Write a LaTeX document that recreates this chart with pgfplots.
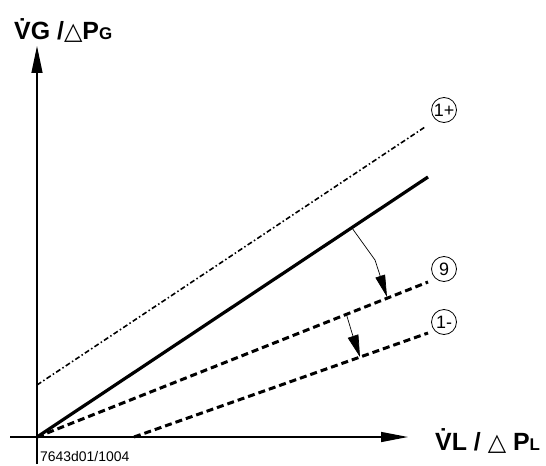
\documentclass[border=0pt]{standalone}
\usepackage{pgfplots}
\pgfplotsset{compat=1.18}
\usepackage{fontspec}
\setmainfont{Liberation Sans}
\newfontfamily\dejavu{DejaVu Sans}
\usetikzlibrary{arrows.meta}

\newcommand{\lblfont}{\fontsize{25}{25}\selectfont\bfseries}
\newcommand{\subfont}{\fontsize{17}{17}\selectfont\bfseries}
\newcommand{\tri}{{\dejavu\fontsize{24}{24}\selectfont △}}

\begin{document}
\begin{tikzpicture}
\begin{axis}[
    scale only axis,
    width=546bp, height=466bp,
    xmin=0, xmax=546, ymin=0, ymax=466,
    y dir=reverse,
    hide axis,
    clip=false,
]
\path (axis cs:0,0) rectangle (axis cs:546,466);

% axes
\draw[line width=1.3bp, -{Triangle[length=27bp,width=10bp]}]
    (axis cs:10,437) -- (axis cs:408,437);
\draw[line width=1.3bp, -{Triangle[length=27bp,width=11bp]}]
    (axis cs:37,464) -- (axis cs:37,46);

% curves
\addplot[black, line width=1.6bp, dash pattern=on 5bp off 2.5bp on 1.5bp off 2.5bp]
    coordinates {(37,385) (425,127)};
\addplot[black, line width=3.2bp]
    coordinates {(37,437) (428,177)};
\addplot[black, line width=3bp, dash pattern=on 7bp off 4bp]
    coordinates {(37,437) (428,282)};
\addplot[black, line width=3bp, dash pattern=on 7bp off 4bp]
    coordinates {(134,437) (428,333)};

% shift arrows
\addplot[black, line width=0.7bp, -{Triangle[length=22bp,width=10bp]}]
    coordinates {(352,228) (375,260) (387,297)};
\addplot[black, line width=0.7bp, -{Triangle[length=22bp,width=11bp]}]
    coordinates {(346,313) (352,333) (360,357)};

% circled labels
\tikzset{circ/.style={draw, circle, line width=0.8bp, minimum size=25bp,
    inner sep=0pt, font=\fontsize{18}{18}\selectfont}}
\node[circ] at (axis cs:444,110) {1+};
\node[circ] at (axis cs:444,269) {9};
\node[circ] at (axis cs:444,322) {1-};

% axis titles
\node[anchor=base west, inner sep=0pt, font=\lblfont] at (axis cs:14,40)
    {\.{V}G /\tri P{\subfont G}};
\node[anchor=base west, inner sep=0pt, font=\lblfont] at (axis cs:435,450)
    {\.{V}L / \tri\ P{\subfont L}};
\node[anchor=base west, inner sep=0pt, font=\fontsize{14}{14}\selectfont]
    at (axis cs:40,461) {7643d01/1004};
\end{axis}
\end{tikzpicture}
\end{document}
